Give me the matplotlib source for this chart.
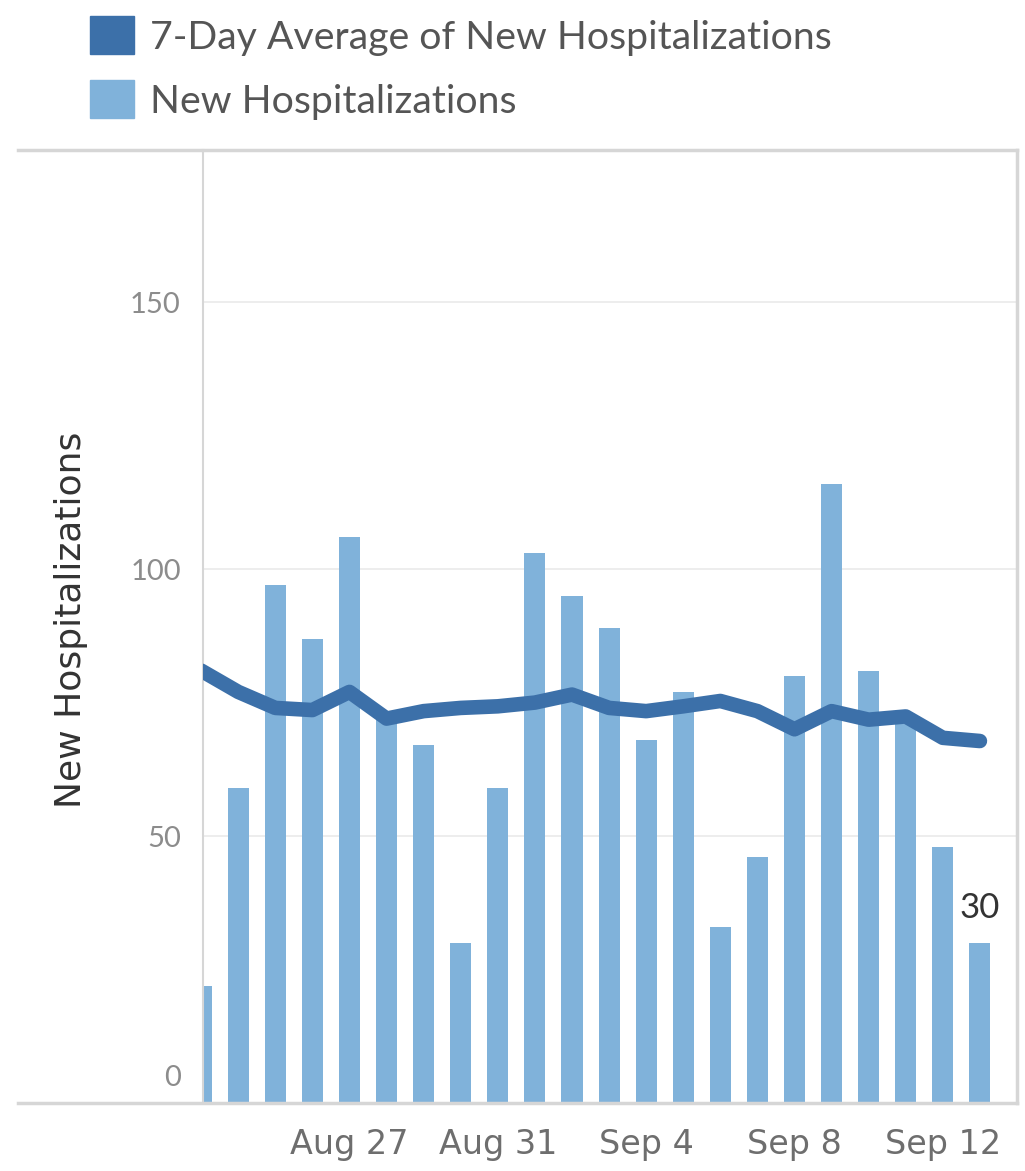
import matplotlib
matplotlib.use("Agg")
import matplotlib.pyplot as plt
import matplotlib.transforms as mtransforms
from matplotlib.patches import Patch
import numpy as np
import pandas as pd

# data (Aug 23 .. Sep 13)
dates = pd.date_range("2020-08-23", "2020-09-13", freq="D")
new_hosp = [22, 59, 97, 87, 106, 72, 67, 30, 59, 103, 95,
            89, 68, 77, 33, 46, 80, 116, 81, 71, 48, 30]
avg_7day = [81, 77, 74, 73.6, 77, 72, 73.4, 74, 74.3, 75, 76.5,
            74, 73.4, 74.3, 75.3, 73.4, 70, 73.4, 71.8, 72.4, 68.4, 67.8]
tick_dates = ["2020-08-27", "2020-08-31", "2020-09-04", "2020-09-08", "2020-09-12"]
y_ticks = [0, 50, 100, 150]

BAR_COLOR = "#80b2da"
LINE_COLOR = "#3c70a9"
FRAME = "#d6d6d6"

plt.rcParams["font.family"] = ["DejaVu Sans"]

fig = plt.figure(figsize=(10.25, 11.71), dpi=100)
ax = fig.add_axes([203 / 1025, 1 - 1103 / 1171, (1017 - 203) / 1025, (1103 - 150) / 1171])

x = np.arange(len(dates))
ax.bar(x, new_hosp, width=0.57, color=BAR_COLOR, zorder=2)
ax.plot(x, avg_7day, color=LINE_COLOR, lw=10.5, solid_capstyle="round",
        solid_joinstyle="round", zorder=3)

# label on the last bar
ax.text(x[-1], new_hosp[-1] + 3.5, str(new_hosp[-1]), ha="center", va="bottom",
        fontsize=25, family="Lato", color="#333333", zorder=4)

ax.set_xlim(0.05, len(dates))
ax.set_ylim(0, 178.5)

tick_idx = [list(dates).index(pd.Timestamp(d)) for d in tick_dates]
ax.set_xticks(tick_idx)
ax.set_xticklabels([pd.Timestamp(d).strftime("%b %-d") for d in tick_dates],
                   fontsize=24, color="#6e6e6e")
ax.set_yticks(y_ticks)
ax.set_yticklabels([str(v) for v in y_ticks], fontsize=21, family="Lato", color="#8c8c8c")
ax.tick_params(length=0)
ax.tick_params(axis="y", pad=16)
ax.tick_params(axis="x", pad=18)
zero = ax.get_yticklabels()[0]
zero.set_transform(zero.get_transform() +
                   mtransforms.ScaledTranslation(0, 0.27, fig.dpi_scale_trans))

ax.set_ylabel("New Hospitalizations", fontsize=26, color="#333333")
ax.yaxis.set_label_coords(-0.141, 0.507)

ax.grid(axis="y", color="#ececec", lw=1.3, zorder=0)
ax.set_axisbelow(True)
for side in ["top", "bottom", "left", "right"]:
    ax.spines[side].set_visible(False)
# frame lines, top and bottom run out past the y axis like Tableau
ext = -(203 - 18) / (1017 - 203)
ax.plot([ext, 1], [1, 1], transform=ax.transAxes, color=FRAME, lw=2.5, clip_on=False)
ax.plot([ext, 1], [0, 0], transform=ax.transAxes, color=FRAME, lw=2.5, clip_on=False)
ax.plot([0, 0], [0, 1], transform=ax.transAxes, color=FRAME, lw=1.5, clip_on=False)
ax.plot([1, 1], [0, 1], transform=ax.transAxes, color=FRAME, lw=2.5, clip_on=False)

handles = [Patch(color=LINE_COLOR, label="7-Day Average of New Hospitalizations"),
           Patch(color=BAR_COLOR, label="New Hospitalizations")]
fig.legend(handles=handles, loc="upper left", bbox_to_anchor=(55 / 1025, 1 + 19 / 1171),
           frameon=False, prop={"family": "Lato", "size": 28.3}, handlelength=1.1,
           handleheight=1.1, handletextpad=0.42, labelspacing=0.63,
           labelcolor="#555555")

fig.savefig("out.png", dpi=100)
